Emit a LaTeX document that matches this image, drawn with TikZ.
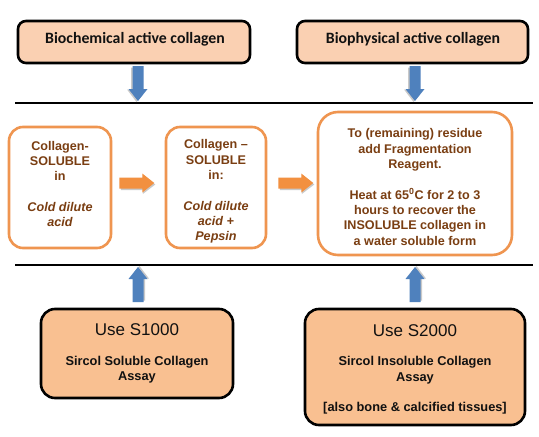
\documentclass[tikz,border=0pt]{standalone}
\usepackage{fontspec}
\setmainfont{Liberation Sans}
\newfontfamily\calib{Carlito}
\usetikzlibrary{calc}
\definecolor{peachA}{HTML}{FAD0B2}
\definecolor{peachB}{HTML}{F9C091}
\definecolor{orng}{HTML}{EF9550}
\definecolor{brn}{HTML}{7A3E12}
\definecolor{blu}{HTML}{4F81BD}
\definecolor{orarr}{HTML}{F29040}
\definecolor{txt}{HTML}{111111}
\tikzset{
  topbox/.style={draw=black, line width=2.6pt, fill=peachA, rounded corners=8pt, inner sep=0pt},
  midbox/.style={draw=orng, line width=2.6pt, fill=white, rounded corners=14pt, inner sep=0pt},
  botbox/.style={draw=black, line width=2.6pt, fill=peachB, rounded corners=14pt, inner sep=0pt},
  toptext/.style={font=\calib\bfseries\fontsize{15.8}{18}\selectfont, text=txt, inner sep=0pt},
  midtext/.style={font=\bfseries\fontsize{12.6}{15.3}\selectfont, text=brn, align=center, inner sep=0pt},
  usetext/.style={font=\fontsize{17}{20}\selectfont, text=txt, inner sep=0pt},
  asstext/.style={font=\bfseries\fontsize{12.8}{15.5}\selectfont, text=txt, align=center, inner sep=0pt},
  sepline/.style={line width=2pt, black},
  blockarrow/.pic={
    \fill[black!35, opacity=0.6] (1.5,-4) -- (23.5,-4) -- (23.5,-8) -- (36,1.5) -- (23.5,11) -- (23.5,7) -- (1.5,7) -- cycle;
    \fill[pic actions] (0,-5.5) -- (23,-5.5) -- (23,-9.5) -- (35,0) -- (23,9.5) -- (23,5.5) -- (0,5.5) -- cycle;
  }
}
\begin{document}
\begin{tikzpicture}[x=1pt,y=-1pt]
\useasboundingbox (0,0) rectangle (539,437);
\fill[white] (0,0) rectangle (539,437);

% top boxes
\node[topbox, minimum width=232pt, minimum height=42pt] (t1) at (134,42) {};
\node[toptext, anchor=base] (t1t) at (135,43) {Biochemical active collagen};
\node[topbox, minimum width=231pt, minimum height=42pt] (t2) at (412.5,42) {};
\node[toptext, anchor=base] (t2t) at (413,43) {Biophysical active collagen};

% separator lines
\coordinate (l1a) at (15,103); \coordinate (l1b) at (533,103);
\coordinate (l2a) at (15,265); \coordinate (l2b) at (533,265);
\draw[sepline] (l1a) -- (l1b);
\draw[sepline] (l2a) -- (l2b);

% blue arrows
\coordinate (d1) at (138,66); \coordinate (d2) at (415,66);
\coordinate (u1) at (138,302); \coordinate (u2) at (415,302);
\pic[fill=blu, rotate=-90] at (d1) {blockarrow};
\pic[fill=blu, rotate=-90] at (d2) {blockarrow};
\pic[fill=blu, rotate=90] at (u1) {blockarrow};
\pic[fill=blu, rotate=90] at (u2) {blockarrow};

% middle boxes
\node[midbox, minimum width=102pt, minimum height=121pt] (a) at (60,187.5) {};
\node[midtext] (at) at (60,184) {Collagen-\\SOLUBLE\\in\\[15.3pt]\textit{Cold dilute}\\\textit{acid}};
\node[midbox, minimum width=100pt, minimum height=121pt] (b) at (216,187.5) {};
\node[midtext] (bt) at (216,191.5) {Collagen –\\SOLUBLE\\in:\\[15.3pt]\textit{Cold dilute}\\\textit{acid +}\\\textit{Pepsin}};
\node[midbox, rounded corners=20pt, minimum width=194pt, minimum height=143pt] (c) at (415,183.5) {};
\node[midtext] (ct) at (415,187) {To (remaining) residue\\add Fragmentation\\Reagent.\\[15.3pt]Heat at 65\textsuperscript{0}C for 2 to 3\\hours to recover the\\INSOLUBLE collagen in\\a water soluble form};

% orange arrows
\pic[fill=orarr] at ($(a.east)+(7,-4.5)$) {blockarrow};
\pic[fill=orarr] at ($(b.east)+(11,-4.5)$) {blockarrow};

% bottom boxes
\node[botbox, minimum width=192pt, minimum height=89pt] (s1) at (137,353.5) {};
\node[usetext] (s1u) at (137,330) {Use S1000};
\node[asstext] (s1a) at (137,369.5) {Sircol Soluble Collagen\\Assay};
\node[botbox, minimum width=220pt, minimum height=116pt] (s2) at (415,367) {};
\node[usetext] (s2u) at (415,331) {Use S2000};
\node[asstext] (s2a) at (415,370) {Sircol Insoluble Collagen\\Assay};
\node[asstext] (s2b) at (415,408) {[also bone \& calcified tissues]};
\end{tikzpicture}
\end{document}
